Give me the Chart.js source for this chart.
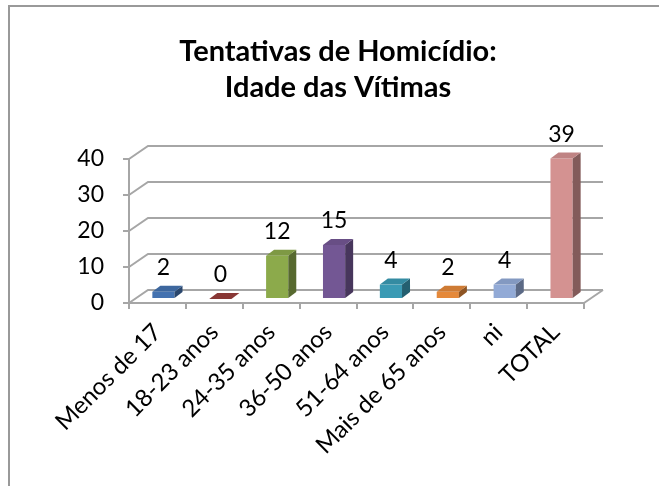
<!DOCTYPE html>
<html>
<head>
<meta charset="utf-8">
<script src="https://cdn.jsdelivr.net/npm/chart.js@4/dist/chart.umd.min.js"></script>
<style>
  html, body { margin: 0; padding: 0; background: #ffffff; }
  canvas { display: block; }
</style>
</head>
<body>
<canvas id="c" width="659" height="486"></canvas>
<script>
// ---- data ----
const categories = ['Menos de 17', '18-23 anos', '24-35 anos', '36-50 anos', '51-64 anos', 'Mais de 65 anos', 'ni', 'TOTAL'];
const values = [2, 0, 12, 15, 4, 2, 4, 39];
const barColors = ['#4472B0', '#A0413E', '#8CAA4B', '#735794', '#3A9AB4', '#E5893A', '#92AAD6', '#D49291'];
const yTicks = [0, 10, 20, 30, 40];
const titleLines = ['Tentativas de Homicídio:', 'Idade das Vítimas'];

// ---- 3D look ----
const FONT = 'Lato';
const gridColor = '#a6a6a6';
const wallOffset = { dx: 19, dy: -13 };
const barShift = { x: 6, y: -4 };
const barDepth = { dx: 8, dy: -6 };

function shade(hex, f) {
  const n = parseInt(hex.slice(1), 16);
  const r = Math.round(((n >> 16) & 255) * f);
  const g = Math.round(((n >> 8) & 255) * f);
  const b = Math.round((n & 255) * f);
  return 'rgb(' + Math.min(255, r) + ',' + Math.min(255, g) + ',' + Math.min(255, b) + ')';
}

const threeD = {
  id: 'threeD',
  beforeDatasetsDraw(chart) {
    const ctx = chart.ctx;
    const ys = chart.scales.y;
    const area = chart.chartArea;
    ctx.save();
    ctx.strokeStyle = gridColor;
    ctx.lineWidth = 2;
    ctx.lineCap = 'butt';
    yTicks.forEach(v => {
      const yf = ys.getPixelForValue(v);
      ctx.beginPath();
      ctx.moveTo(area.left, yf);
      ctx.lineTo(area.left + wallOffset.dx, yf + wallOffset.dy);
      ctx.lineTo(area.right + wallOffset.dx, yf + wallOffset.dy);
      ctx.stroke();
    });
    const y0 = ys.getPixelForValue(0);
    ctx.beginPath();
    ctx.moveTo(area.right, y0);
    ctx.lineTo(area.right + wallOffset.dx, y0 + wallOffset.dy);
    ctx.stroke();
    ctx.restore();
    // shift the bar plane between front axis and back wall
    ctx.save();
    ctx.translate(barShift.x, barShift.y);
  },
  afterDatasetsDraw(chart) {
    const ctx = chart.ctx;
    ctx.restore();
    const meta = chart.getDatasetMeta(0);
    ctx.save();
    meta.data.forEach((el, i) => {
      const x = el.x + barShift.x;
      const top = el.y + barShift.y;
      const base = el.base + barShift.y;
      const w = el.width;
      const l = x - w / 2, r = x + w / 2;
      const col = barColors[i];
      // side face
      ctx.fillStyle = shade(col, 0.62);
      ctx.beginPath();
      ctx.moveTo(r, top);
      ctx.lineTo(r + barDepth.dx, top + barDepth.dy);
      ctx.lineTo(r + barDepth.dx, base + barDepth.dy);
      ctx.lineTo(r, base);
      ctx.closePath();
      ctx.fill();
      // top face
      ctx.fillStyle = values[i] === 0 ? shade(col, 0.85) : shade(col, 0.9);
      ctx.beginPath();
      ctx.moveTo(l, top);
      ctx.lineTo(r, top);
      ctx.lineTo(r + barDepth.dx, top + barDepth.dy);
      ctx.lineTo(l + barDepth.dx, top + barDepth.dy);
      ctx.closePath();
      ctx.fill();
      // data label
      ctx.fillStyle = '#000000';
      ctx.font = '23px ' + FONT;
      ctx.textAlign = 'center';
      ctx.textBaseline = 'middle';
      ctx.fillText(String(values[i]), x, top - 24);
    });
    ctx.restore();
  },
  afterDraw(chart) {
    const ctx = chart.ctx;
    ctx.save();
    // title
    ctx.fillStyle = '#000000';
    ctx.font = 'bold 29px ' + FONT;
    ctx.textAlign = 'center';
    ctx.textBaseline = 'middle';
    titleLines.forEach((t, i) => ctx.fillText(t, 338, 52 + i * 36));
    // chart frame
    ctx.strokeStyle = '#999999';
    ctx.lineWidth = 2;
    ctx.beginPath();
    ctx.moveTo(chart.width, 6);
    ctx.lineTo(9, 6);
    ctx.lineTo(9, chart.height);
    ctx.stroke();
    ctx.restore();
  }
};

new Chart(document.getElementById('c'), {
  type: 'bar',
  data: {
    labels: categories,
    datasets: [{
      data: values,
      backgroundColor: barColors,
      borderWidth: 0,
      barPercentage: 0.39,
      categoryPercentage: 1.0,
      clip: false
    }]
  },
  options: {
    responsive: false,
    devicePixelRatio: 1,
    animation: false,
    events: [],
    layout: { padding: { left: 0, right: 75, top: 159, bottom: 0 } },
    plugins: {
      legend: { display: false },
      tooltip: { enabled: false },
      title: { display: false }
    },
    scales: {
      x: {
        grid: { display: true, drawOnChartArea: false, offset: true, tickLength: 6, color: gridColor, lineWidth: 2 },
        border: { display: true, color: gridColor, width: 2 },
        ticks: {
          color: '#000000',
          font: { family: FONT, size: 24 },
          maxRotation: 45,
          minRotation: 45,
          padding: 9,
          autoSkip: false
        },
        afterFit(scale) { scale.height = 183; }
      },
      y: {
        min: 0,
        max: 40,
        afterBuildTicks(scale) { scale.ticks = yTicks.map(v => ({ value: v })); },
        grid: { display: true, drawOnChartArea: false, tickLength: 6, color: gridColor, lineWidth: 2 },
        border: { display: true, color: gridColor, width: 2 },
        ticks: {
          color: '#000000',
          font: { family: FONT, size: 23 },
          padding: 19
        },
        afterFit(scale) { scale.width = 129; }
      }
    }
  },
  plugins: [threeD]
});
</script>
</body>
</html>
